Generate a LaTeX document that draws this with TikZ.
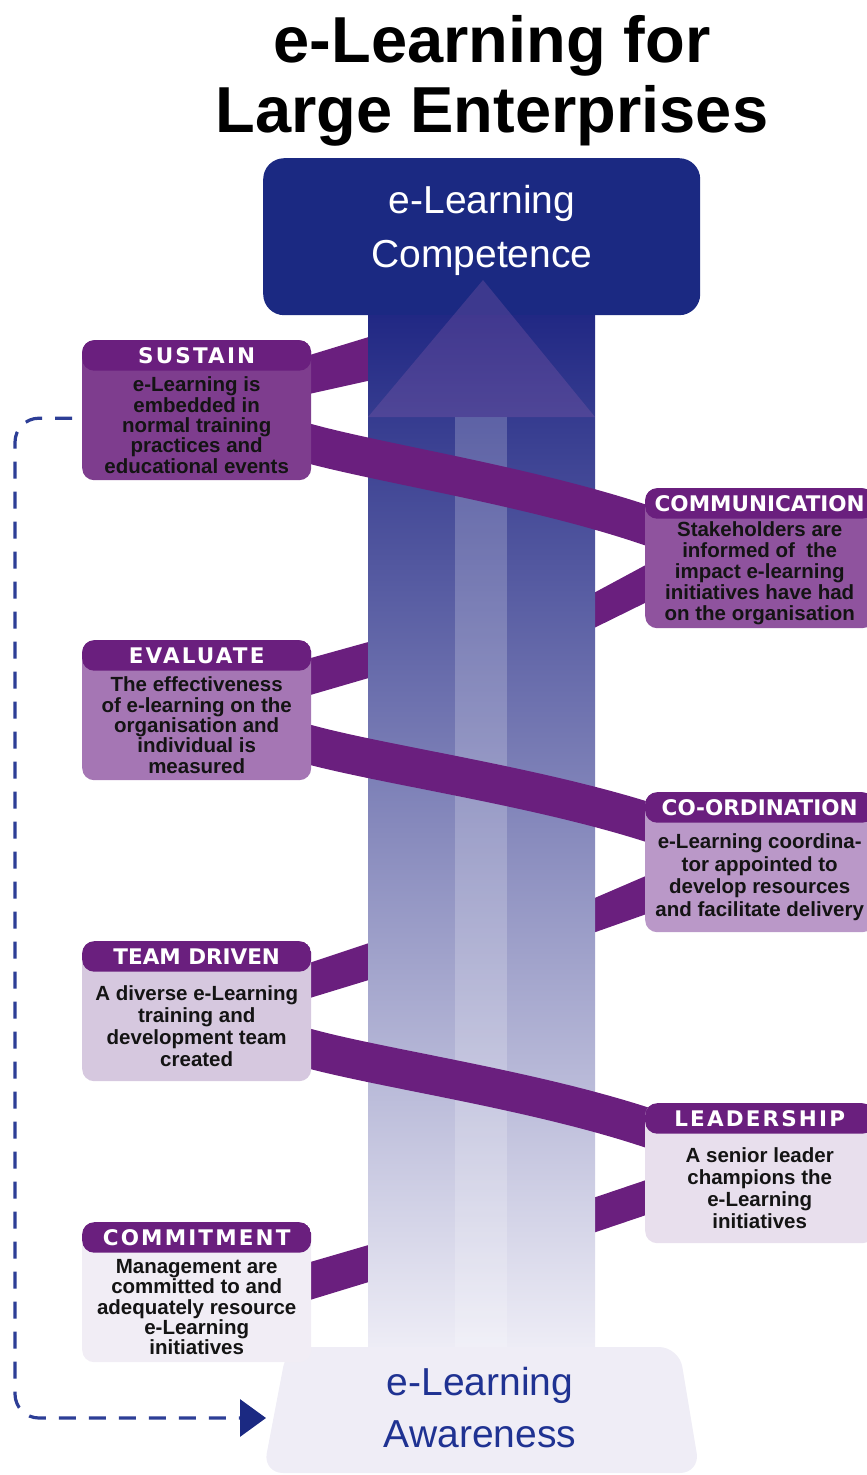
\documentclass[tikz,border=0pt]{standalone}
\usepackage{fontspec}
\setmainfont{Liberation Sans}
\newfontfamily\hdrfont[LetterSpace=10]{DejaVu Sans}
\newfontfamily\hdrtight{DejaVu Sans}
\usetikzlibrary{arrows.meta}

\definecolor{navybox}{RGB}{27,41,130}
\definecolor{navytext}{RGB}{31,50,146}
\definecolor{loopblue}{RGB}{45,62,150}
\definecolor{bandc}{RGB}{106,31,126}
\definecolor{colTop}{RGB}{33,40,132}
\definecolor{colMid}{RGB}{136,125,187}
\definecolor{colBot}{RGB}{238,237,246}
\definecolor{headc}{RGB}{140,95,170}
\definecolor{awarefill}{RGB}{239,237,246}
\definecolor{sustainc}{RGB}{126,61,142}
\definecolor{commc}{RGB}{143,83,158}
\definecolor{evalc}{RGB}{165,118,180}
\definecolor{coordc}{RGB}{186,152,200}
\definecolor{teamc}{RGB}{214,200,223}
\definecolor{leadc}{RGB}{232,223,237}
\definecolor{commitc}{RGB}{241,237,245}

\tikzset{
  band/.style={fill=bandc},
  stage/.style={rounded corners=12pt, minimum width=229pt, minimum height=140pt,
    inner sep=0pt, anchor=north west,
    path picture={\fill[bandc] (path picture bounding box.north west) rectangle
      ([yshift=-30.5pt]path picture bounding box.north east);}},
  hdr/.style={text=white, inner sep=0pt, font=\hdrfont\bfseries\fontsize{21.5}{22}\selectfont},
  hdrnarrow/.style={text=white, inner sep=0pt, font=\hdrtight\bfseries\fontsize{21.5}{22}\selectfont},
  bodytxt/.style={text=black!92, inner sep=0pt, align=center,
    font=\bfseries\fontsize{20.5}{#1}\selectfont},
  bodytxt/.default=20.3,
  bigtxt/.style={inner sep=0pt, anchor=base, font=\fontsize{39}{40}\selectfont},
  titletxt/.style={inner sep=0pt, anchor=base, font=\bfseries\fontsize{65}{70}\selectfont},
  backpath/.style={draw=loopblue, line width=3.2pt, dash pattern=on 17pt off 13pt,
    rounded corners=24pt, -{Triangle[length=26pt,width=37pt,color=navybox]}}
}

\begin{document}
\begin{tikzpicture}[x=1pt,y=-1pt]
\useasboundingbox (0,0) rectangle (867,1475);

\node[titletxt] (title1) at (492,62) {e-Learning for};
\node[titletxt] (title2) at (492,132) {Large Enterprises};

% ribbon pieces behind the column
\fill[band] (300,358) -- (372,336) -- (372,380) -- (300,396) -- cycle;
\fill[band] (300,661) -- (372,641) -- (372,677) -- (300,698) -- cycle;
\fill[band] (300,966) -- (372,942) -- (372,979) -- (300,1001) -- cycle;
\fill[band] (300,1265) -- (372,1244) -- (372,1281) -- (300,1303) -- cycle;
\fill[band] (590,595) -- (655,560) -- (655,598) -- (590,630) -- cycle;
\fill[band] (590,900) -- (655,872) -- (655,911) -- (590,934) -- cycle;
\fill[band] (590,1199) -- (655,1177) -- (655,1212) -- (590,1234) -- cycle;

\node[fill=navybox, rounded corners=21pt, minimum width=437pt, minimum height=157pt,
  inner sep=0pt, anchor=north west] (competence) at (263,158) {};
\node[bigtxt, text=white] (comp1) at (482,213) {e-Learning};
\node[bigtxt, text=white] (comp2) at (482,267) {Competence};

% column with arrow
\shade[top color=colTop, middle color=colMid, bottom color=colBot] (368,315) rectangle (595,1350);
\fill[white, fill opacity=0.2] (455,417) rectangle (507,1350);
\fill[headc, fill opacity=0.3] (368,417) -- (483,280) -- (595,417) -- cycle;

% ribbon pieces in front of the column
\draw[bandc, line width=39pt] (300,441) .. controls (375,463) and (540,487) .. (660,530);
\draw[bandc, line width=39pt] (300,742) .. controls (375,764) and (540,786) .. (660,826);
\draw[bandc, line width=39pt] (300,1046) .. controls (375,1068) and (540,1090) .. (660,1132);

\fill[awarefill, rounded corners=20pt] (287,1347) -- (679,1347) -- (700,1473) -- (263,1473) -- cycle;
\node[bigtxt, text=navytext] (aware1) at (480,1395) {e-Learning};
\node[bigtxt, text=navytext] (aware2) at (480,1447) {Awareness};

\node[stage, fill=sustainc] (sustain) at (82,340) {};
\node[hdr] (sustainhd) at ([yshift=-15.5pt]sustain.north) {SUSTAIN};
\node[bodytxt] (sustainbd) at ([yshift=-15pt]sustain.center)
  {e-Learning is\\embedded in\\normal training\\practices and\\educational events};

\node[stage, fill=commc] (comm) at (645,488) {};
\node[hdrnarrow] (commhd) at ([yshift=-15.5pt]comm.north) {COMMUNICATION};
\node[bodytxt=21] (commbd) at ([yshift=-15pt]comm.center)
  {Stakeholders are\\informed of~ the\\impact e-learning\\initiatives have had\\on the organisation};

\node[stage, fill=evalc] (evaluate) at (82,640) {};
\node[hdr] (evaluatehd) at ([yshift=-15.5pt]evaluate.north) {EVALUATE};
\node[bodytxt] (evaluatebd) at ([yshift=-15pt]evaluate.center)
  {The effectiveness\\of e-learning on the\\organisation and\\individual is\\measured};

\node[stage, fill=coordc] (coord) at (645,792) {};
\node[hdrnarrow] (coordhd) at ([yshift=-15.5pt]coord.north) {CO-ORDINATION};
\node[bodytxt=22.5] (coordbd) at ([yshift=-15pt]coord.center)
  {e-Learning coordina-\\tor appointed to\\develop resources\\and facilitate delivery};

\node[stage, fill=teamc] (team) at (82,941) {};
\node[hdrnarrow] (teamhd) at ([yshift=-15.5pt]team.north) {TEAM DRIVEN};
\node[bodytxt=22] (teambd) at ([yshift=-15pt]team.center)
  {A diverse e-Learning\\training and\\development team\\created};

\node[stage, fill=leadc] (lead) at (645,1103) {};
\node[hdr] (leadhd) at ([yshift=-15.5pt]lead.north) {LEADERSHIP};
\node[bodytxt=22] (leadbd) at ([yshift=-15pt]lead.center)
  {A senior leader\\champions the\\e-Learning\\initiatives};

\node[stage, fill=commitc] (commit) at (82,1222) {};
\node[hdr] (commithd) at ([yshift=-15.5pt]commit.north) {COMMITMENT};
\node[bodytxt] (commitbd) at ([yshift=-15pt]commit.center)
  {Management are\\committed to and\\adequately resource\\e-Learning\\initiatives};

% back to awareness
\coordinate (loopturn) at (15,1418);
\coordinate (awarein) at (266,1418);
\draw[backpath] ([xshift=-10pt,yshift=-8pt]sustain.west) -| (loopturn) -- (awarein);
\end{tikzpicture}
\end{document}
